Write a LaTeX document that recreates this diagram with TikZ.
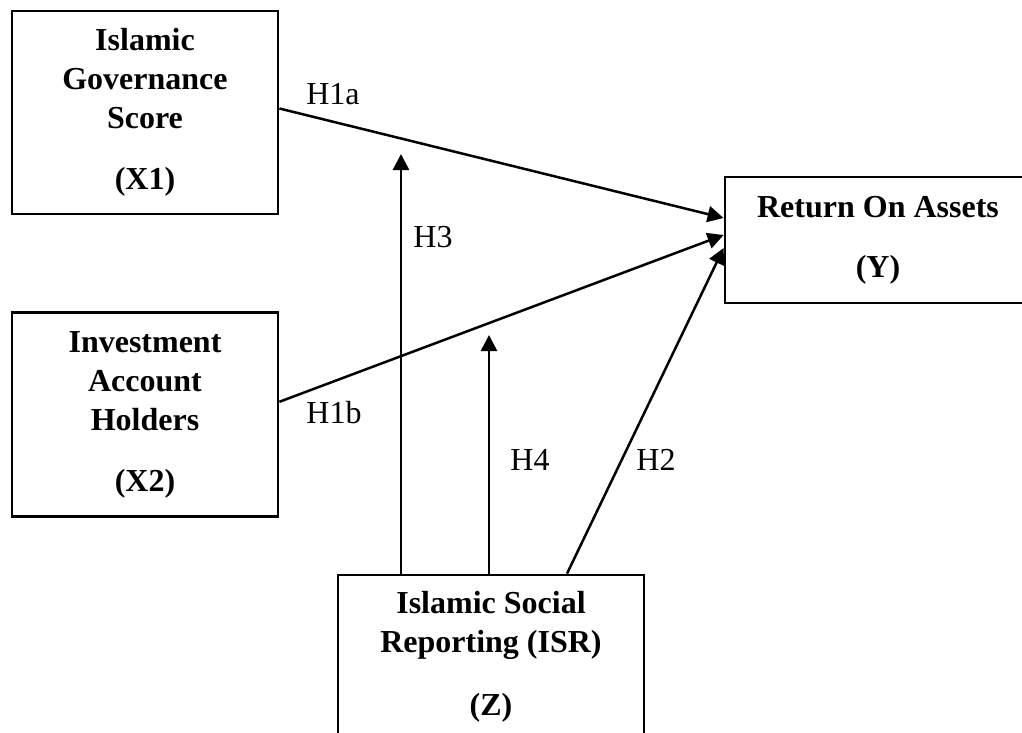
\documentclass[tikz,border=0pt]{standalone}
\usepackage{fontspec}
\setmainfont{Liberation Serif}
\usetikzlibrary{arrows.meta, positioning}

\begin{document}
\begin{tikzpicture}[x=1pt, y=-1pt,
    varbox/.style={rectangle, draw=black, line width=2.8pt, align=center, font=\fontsize{32}{39}\selectfont\bfseries},
    hyp/.style={font=\fontsize{32}{39}\selectfont, inner sep=0pt},
    link/.style={line width=2.5pt, -{Triangle[length=16pt, width=16pt]}}]
    \useasboundingbox (0,0) rectangle (1022,733);

    % Define nodes
    \node (igs) [varbox, minimum width=266pt, minimum height=203pt] at (145,112.5) {Islamic\\Governance\\Score\\[22pt](X1)};
    \node (iah) [varbox, below=96pt of igs, minimum width=266pt, minimum height=204pt] {Investment\\Account\\Holders\\[22pt](X2)};
    \node (roa) [varbox, minimum width=306pt, minimum height=126pt] at (878,240) {Return On Assets\\[21pt](Y)};
    \node (isr) [varbox, minimum width=306pt, minimum height=164pt] at (491,657) {Islamic Social\\Reporting (ISR)\\[24pt](Z)};

    % Moderation arrow ends
    \coordinate (mod3) at (401,154);
    \coordinate (mod4) at (489,335);

    % Connect nodes
    \draw[link] ([yshift=4pt]igs.east) -- ([yshift=22pt]roa.west);
    \draw[link] ([yshift=13pt]iah.east) -- ([yshift=5pt]roa.west);
    \draw[link] ([xshift=76pt]isr.north) -- ([yshift=-8pt]roa.west);
    \draw[link] ([xshift=-90pt]isr.north) -- (mod3);
    \draw[link] ([xshift=-2pt]isr.north) -- (mod4);

    % Hypothesis labels
    \node (h1a) [hyp] at (333,94) {H1a};
    \node (h1b) [hyp] at (334,413) {H1b};
    \node (h2) [hyp] at (656,460) {H2};
    \node (h3) [hyp] at (433,237) {H3};
    \node (h4) [hyp] at (530,460) {H4};
\end{tikzpicture}
\end{document}
